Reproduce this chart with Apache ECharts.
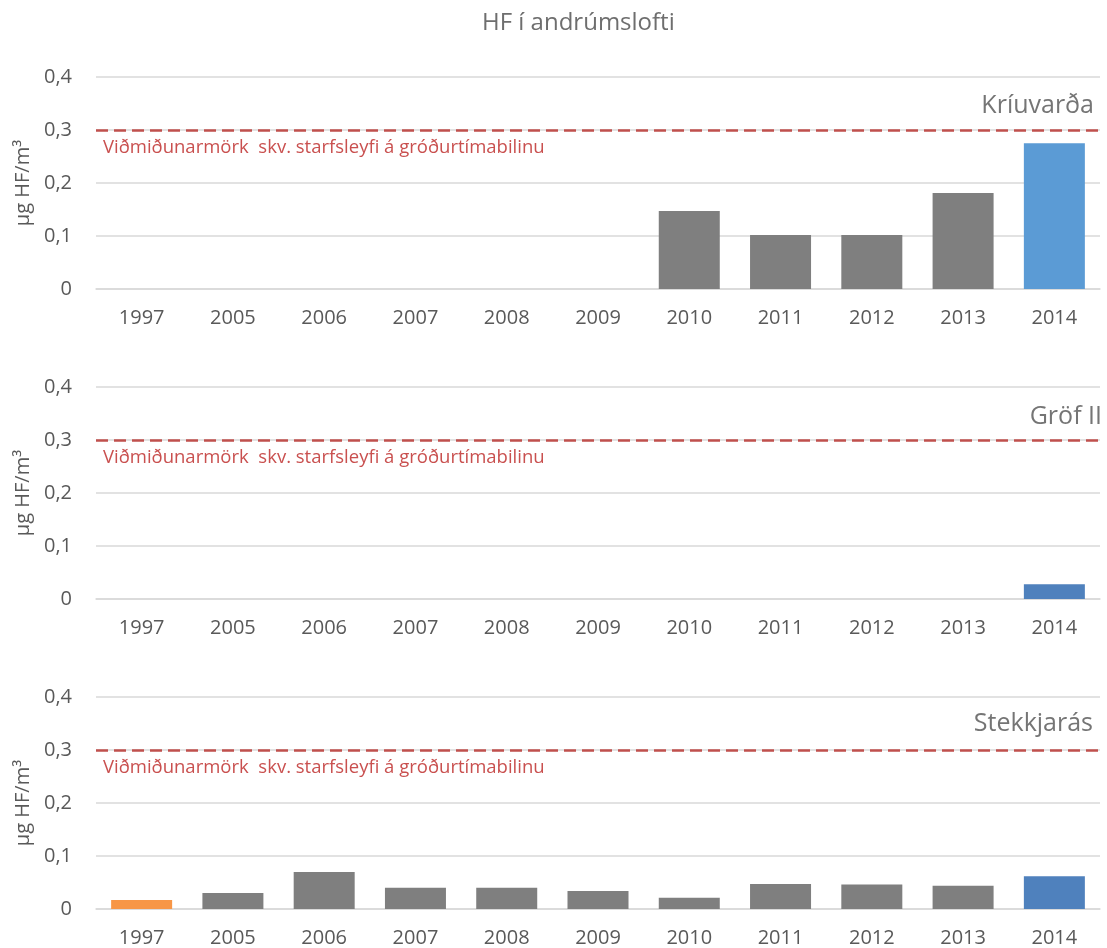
<!DOCTYPE html>
<html>
<head>
<meta charset="utf-8">
<script src="https://cdn.jsdelivr.net/npm/echarts@6/dist/echarts.min.js"></script>
<style>
  html, body { margin: 0; padding: 0; background: #fff; }
  #main { width: 1107px; height: 948px; }
</style>
</head>
<body>
<div id="main"></div>
<script>
// ár (x-ás)
var years = ['1997', '2005', '2006', '2007', '2008', '2009', '2010', '2011', '2012', '2013', '2014'];
// HF mælingar, µg/m3
var kriuvarda = [null, null, null, null, null, null, 0.147, 0.102, 0.102, 0.181, 0.275];
var grof = [null, null, null, null, null, null, null, null, null, null, 0.028];
var stekkjaras = [0.017, 0.030, 0.070, 0.040, 0.040, 0.034, 0.021, 0.047, 0.046, 0.044, 0.062];
var stations = ['Kríuvarða', 'Gröf II', 'Stekkjarás'];
var limit = 0.3;
var limitText = 'Viðmiðunarmörk  skv. starfsleyfi á gróðurtímabilinu';

var font = 'Open Sans';
var tops = [77, 387, 697];
var lastColor = ['#5B9BD5', '#4F81BD', '#4F81BD'];
var seriesData = [kriuvarda, grof, stekkjaras];

var myChart = echarts.init(document.getElementById('main'));

var grids = [], xAxes = [], yAxes = [], series = [];
var titles = [{
  text: 'HF í andrúmslofti',
  left: 477,
  top: 6,
  textStyle: { color: '#6E6E6E', fontSize: 24, fontWeight: 'normal', fontFamily: font }
}];
var nameTops = [88, 399, 706];
var nameRights = [8, 0, 9];

for (var i = 0; i < 3; i++) {
  grids.push({ left: 96, right: 7, top: tops[i], height: 212 });
  xAxes.push({
    type: 'category',
    gridIndex: i,
    data: years,
    axisTick: { show: false },
    axisLine: { lineStyle: { color: '#D9D9D9', width: 1.5 } },
    axisLabel: { color: '#595959', fontSize: 20, fontFamily: font, margin: 19 }
  });
  yAxes.push({
    type: 'value',
    gridIndex: i,
    min: 0,
    max: 0.4,
    interval: 0.1,
    name: 'µg HF/m³',
    nameLocation: 'middle',
    nameGap: 63,
    nameTextStyle: { color: '#595959', fontSize: 20, fontFamily: font },
    axisLine: { show: false },
    axisTick: { show: false },
    splitLine: { lineStyle: { color: '#D9D9D9', width: 1.5 } },
    axisLabel: {
      color: '#595959', fontSize: 20, fontFamily: font, margin: 24,
      formatter: function (v) { return String(Math.round(v * 10) / 10).replace('.', ','); }
    }
  });
  titles.push({
    text: stations[i],
    right: nameRights[i],
    top: nameTops[i],
    textStyle: { color: '#757575', fontSize: 25, fontWeight: 'normal', fontFamily: font }
  });
  (function (idx) {
    series.push({
      type: 'bar',
      xAxisIndex: idx,
      yAxisIndex: idx,
      data: seriesData[idx],
      barWidth: 61,
      itemStyle: {
        color: function (p) {
          if (p.dataIndex === years.length - 1) return lastColor[idx];
          if (p.dataIndex === 0) return '#F79646';
          return '#7F7F7F';
        }
      },
      markLine: {
        silent: true,
        symbol: 'none',
        lineStyle: { color: '#C0504D', type: [12, 6], width: 2.5 },
        label: {
          show: true,
          position: 'insideStartBottom',
          formatter: limitText,
          color: '#C9504F',
          fontSize: 18.5,
          fontFamily: font,
          distance: [7, 8]
        },
        data: [{ yAxis: limit }]
      }
    });
  })(i);
}

var option = {
  animation: false,
  title: titles,
  grid: grids,
  xAxis: xAxes,
  yAxis: yAxes,
  series: series
};
myChart.setOption(option);
</script>
</body>
</html>
